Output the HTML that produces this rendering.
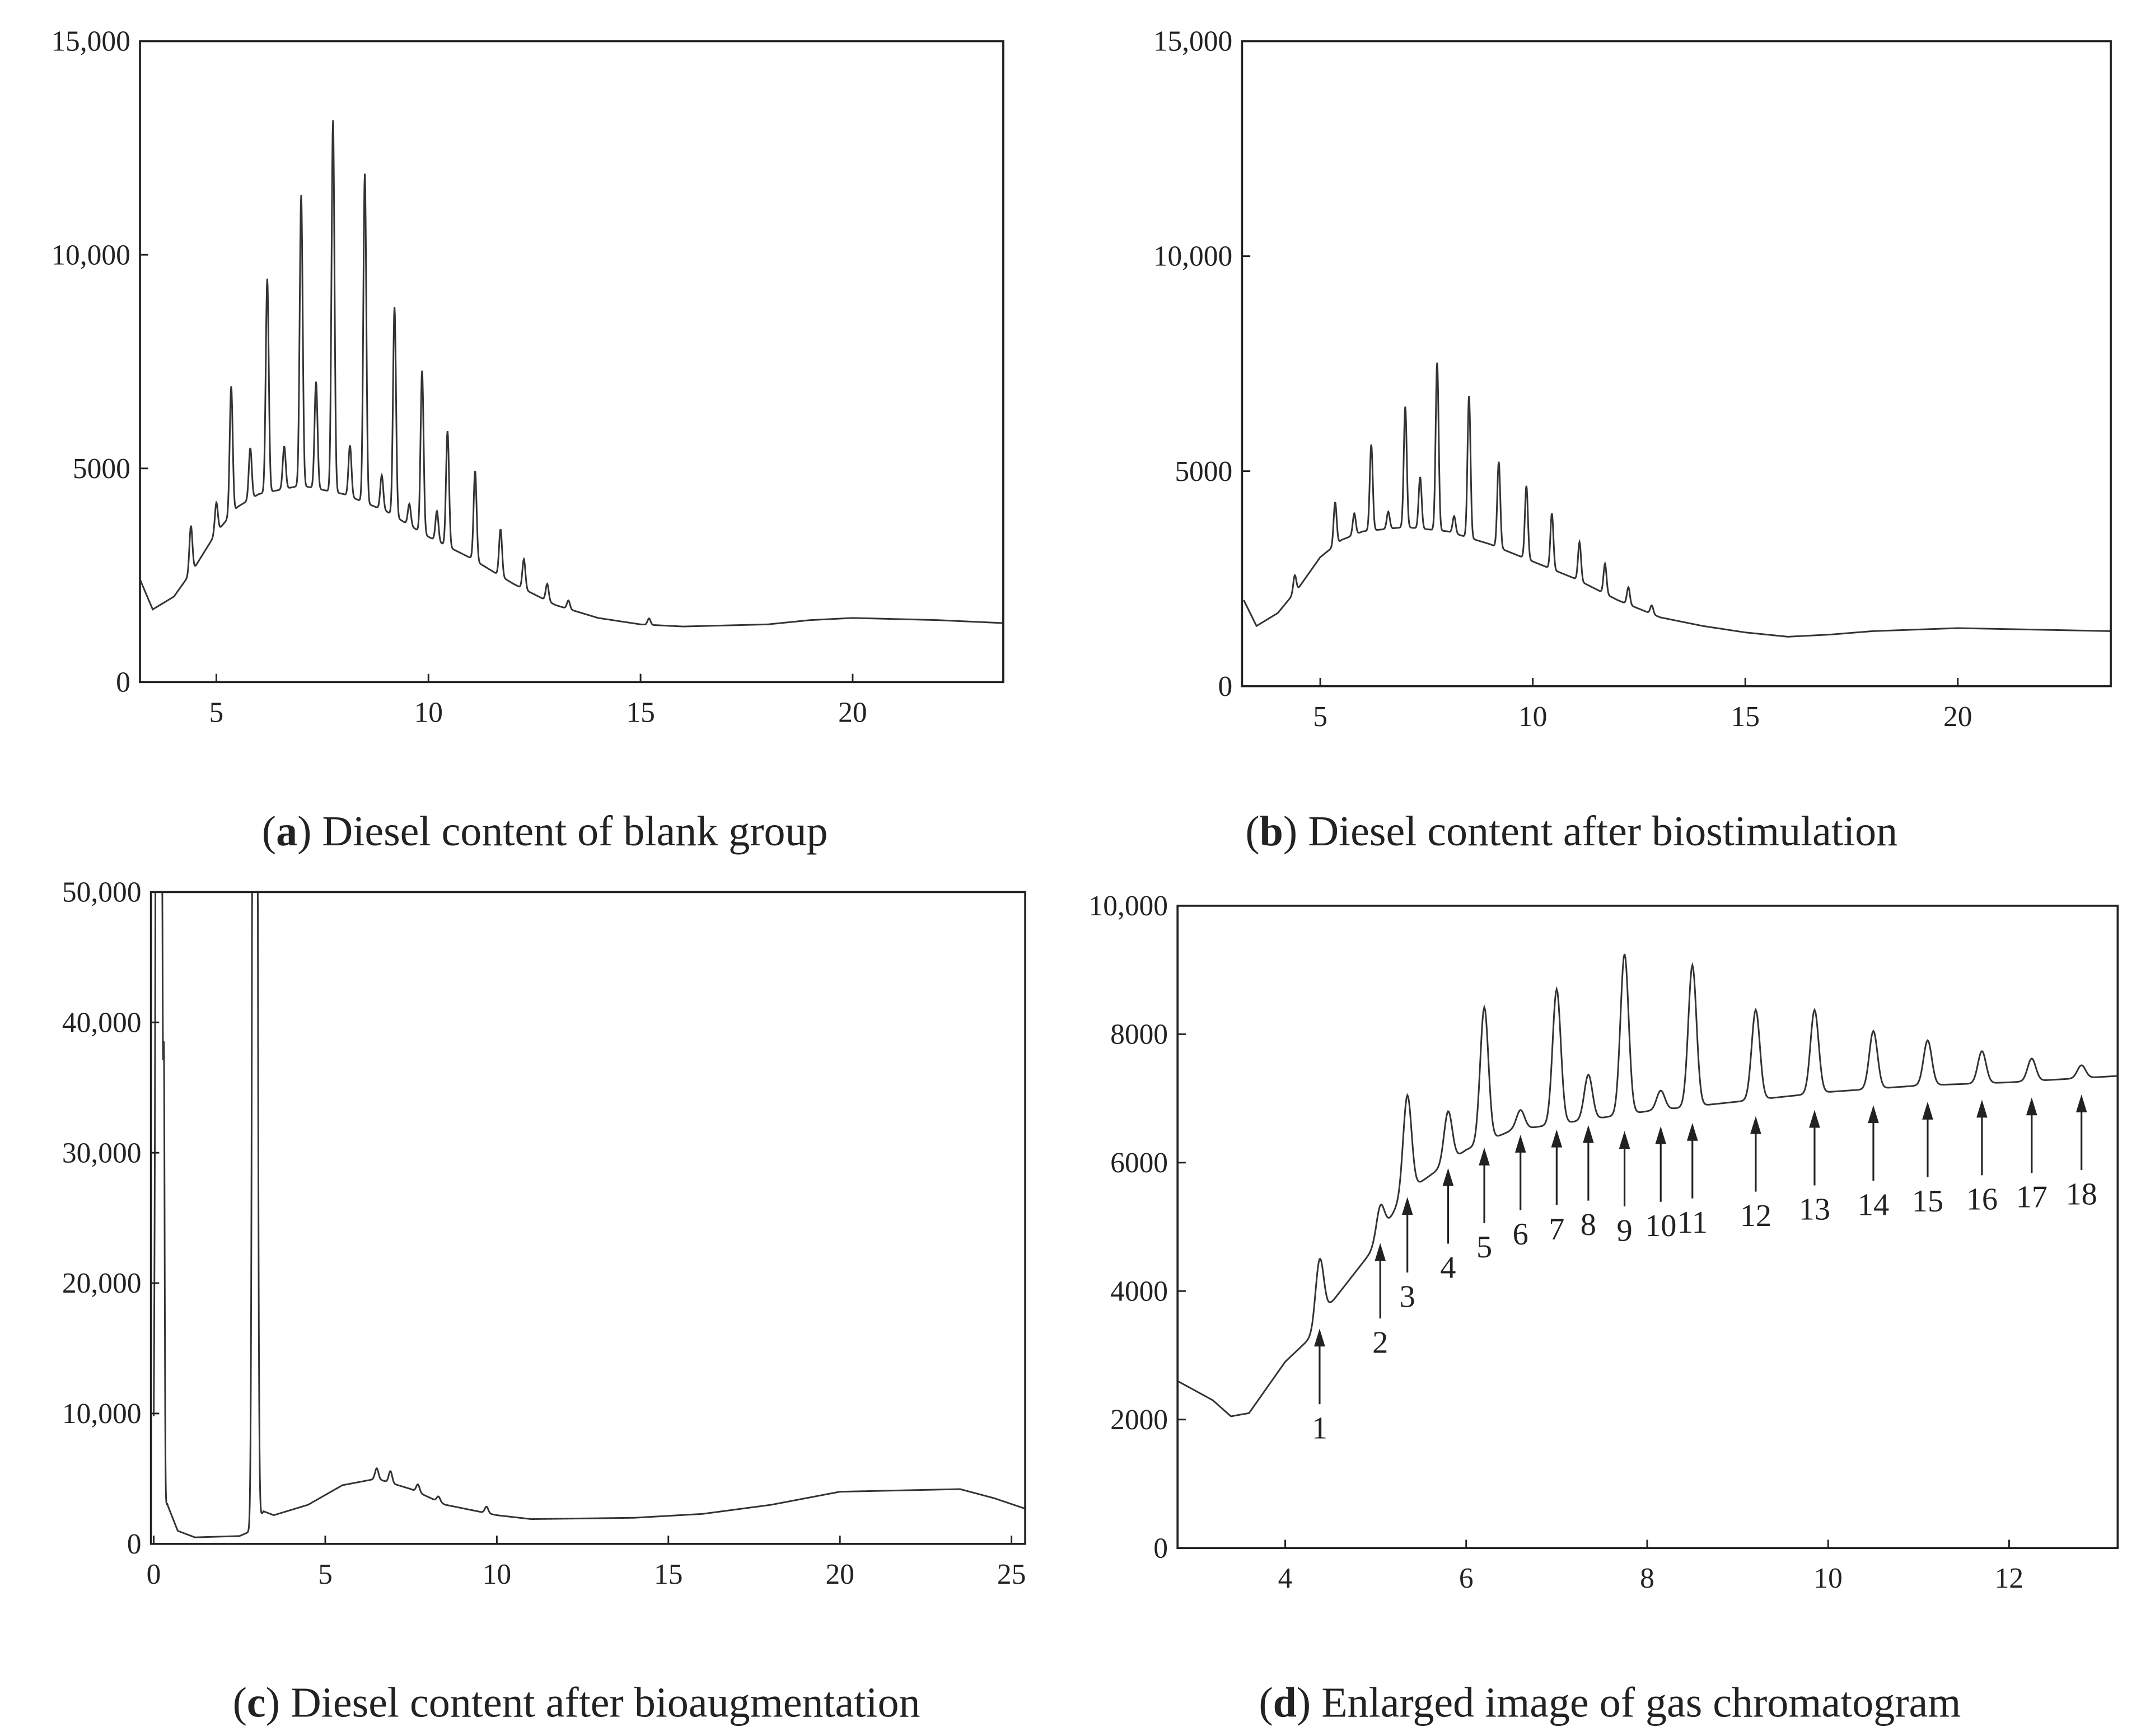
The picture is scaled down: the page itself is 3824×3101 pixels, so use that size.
<!DOCTYPE html>
<html><head><meta charset="utf-8"><style>
html,body{margin:0;padding:0;background:#fff;}
svg{display:block;}
text{font-family:"Liberation Serif",serif;fill:#222;}
</style></head><body>
<svg id="fig" width="3824" height="3101" viewBox="0 0 1560 1265" preserveAspectRatio="none" xmlns="http://www.w3.org/2000/svg">
<rect width="1560" height="1265" fill="#fff"/>
<g id="root"></g>
<text x="397" y="616" font-size="31" text-anchor="middle">(<tspan font-weight="bold">a</tspan>) Diesel content of blank group</text>
<text x="1145" y="616" font-size="31" text-anchor="middle">(<tspan font-weight="bold">b</tspan>) Diesel content after biostimulation</text>
<text x="420" y="1251" font-size="31" text-anchor="middle">(<tspan font-weight="bold">c</tspan>) Diesel content after bioaugmentation</text>
<text x="1173" y="1251" font-size="31" text-anchor="middle">(<tspan font-weight="bold">d</tspan>) Enlarged image of gas chromatogram</text>
</svg>
<script>
// ---- data ----
const aBaseX=[3.2,3.5,4,4.5,5,5.5,6,7,8,9,10,11,12,13,14,15,16,18,19,20,22,23.55];
const aBaseY=[2400,1700,2000,2700,3500,4100,4400,4600,4400,4000,3400,2900,2300,1800,1500,1350,1300,1350,1450,1500,1450,1380];
const aPeakX=[4.4,5.0,5.35,5.8,6.2,6.6,7.0,7.35,7.75,8.15,8.5,8.9,9.2,9.55,9.85,10.2,10.45,11.1,11.7,12.25,12.8,13.3,15.2];
const aPeakH=[1100,700,3000,1200,5000,1000,6800,2500,8700,1200,7700,800,4900,500,3800,700,2700,2100,1100,700,400,200,150];

const bBaseX=[3.2,3.5,4,4.5,5,5.5,6,7,8,9,10,11,12,13,14,15,16,17,18,20,23.6];
const bBaseY=[2000,1400,1700,2300,3000,3400,3600,3700,3600,3300,2900,2500,2000,1600,1400,1250,1150,1200,1280,1350,1280];
const bPeakX=[4.4,5.35,5.8,6.2,6.6,7.0,7.35,7.75,8.15,8.5,9.2,9.85,10.45,11.1,11.7,12.25,12.8];
const bPeakH=[400,1000,500,2000,400,2800,1200,3900,400,3300,2000,1700,1300,900,700,400,200];

const cBaseX=[0,0.4,0.7,1.2,2.5,2.85,3.2,3.5,4.5,5.5,6.5,7.5,8.5,10,11,14,16,18,20,23.5,24.5,25.4];
const cBaseY=[1000,3000,1000,500,600,1000,2500,2200,3000,4500,5000,4200,3000,2200,1900,2000,2300,3000,4000,4200,3500,2700];
const cPeakX=[0.15,0.3,2.95,6.5,6.9,7.7,8.3,9.7];
const cPeakH=[200000,26000,200000,800,900,600,400,500];

const dBaseX=[2.81,3.2,3.4,3.6,3.8,4.0,4.3,4.5,5,5.3,5.6,6,6.5,7,8,9,10,11,12,13.2];
const dBaseY=[2600,2300,2050,2100,2500,2900,3300,3800,4700,5500,5800,6200,6500,6600,6800,6950,7100,7200,7250,7350];
const dPeakX=[4.38,5.05,5.35,5.8,6.2,6.6,7.0,7.35,7.75,8.15,8.5,9.2,9.85,10.5,11.1,11.7,12.25,12.8];
const dPeakH=[1000,500,1500,800,2100,300,2100,700,2500,300,2200,1400,1300,900,700,500,350,200];
const dLabels=["1","2","3","4","5","6","7","8","9","10","11","12","13","14","15","16","17","18"];

const aYTicks=[0,5000,10000,15000], aYLab=["0","5000","10,000","15,000"];
const aXTicks=[5,10,15,20];
const cYTicks=[0,10000,20000,30000,40000,50000], cYLab=["0","10,000","20,000","30,000","40,000","50,000"];
const cXTicks=[0,5,10,15,20,25];
const dYTicks=[0,2000,4000,6000,8000,10000], dYLab=["0","2000","4000","6000","8000","10,000"];
const dXTicks=[4,6,8,10,12];

const NS="http://www.w3.org/2000/svg";
const root=document.getElementById('root');
function mk(tag,attrs,parent){const e=document.createElementNS(NS,tag);for(const k in attrs)e.setAttribute(k,attrs[k]);(parent||root).appendChild(e);return e;}
function interp(xs,ys,x){if(x<=xs[0])return ys[0];for(let i=1;i<xs.length;i++){if(x<=xs[i]){const t=(x-xs[i-1])/(xs[i]-xs[i-1]);return ys[i-1]+t*(ys[i]-ys[i-1]);}}return ys[ys.length-1];}
function val(p,x){let v=interp(p.bx,p.by,x);for(let i=0;i<p.px.length;i++){const s=p.sig[i]!==undefined?p.sig[i]:p.s;v+=p.ph[i]*Math.exp(-Math.pow((x-p.px[i])/s,2)/2);}return v;}

function panel(p){
  const g=mk('g',{});
  
  
  const X=v=>p.L+(v-p.x0)*(p.R-p.L)/(p.x1-p.x0);
  const Y=v=>p.B-(v-p.y0)*(p.B-p.T)/(p.y1-p.y0);
  p.X=X;p.Y=Y;
  const cid='clip-'+p.name;
  const cp=mk('clipPath',{id:cid},g);mk('rect',{x:p.L,y:p.T,width:p.R-p.L,height:p.B-p.T},cp);
  let d='';
  for(let x=p.bx[0];x<=p.bx[p.bx.length-1]+1e-9;x+=p.step){const v=val(p,x);d+=(d?'L':'M')+X(x).toFixed(2)+' '+Math.max(Y(v),p.T-5).toFixed(2);}
  const line=mk('path',{d:d,fill:'none',stroke:'#333','stroke-width':1.2,'clip-path':'url(#'+cid+')'},g);
  
  
  const fr=mk('rect',{x:p.L,y:p.T,width:p.R-p.L,height:p.B-p.T,fill:'none',stroke:'#222','stroke-width':1.5},g);
  
  
  p.yt.forEach((t,i)=>{
    mk('line',{x1:p.L,x2:p.L+6,y1:Y(t),y2:Y(t),stroke:'#222','stroke-width':1.2},g);
    const tx=mk('text',{x:p.L-7,y:Y(t)+7,'font-size':21,'text-anchor':'end'},g);tx.textContent=p.yl[i];
    
    
  });
  p.xt.forEach(t=>{
    mk('line',{x1:X(t),x2:X(t),y1:p.B,y2:p.B-6,stroke:'#222','stroke-width':1.2},g);
    const tx=mk('text',{x:X(t),y:p.B+29,'font-size':21,'text-anchor':'middle'},g);tx.textContent=String(t);
    
    
  });
  return g;
}
panel({name:'panel-a',L:102,R:731,T:30,B:497,x0:3.2,x1:23.55,y0:0,y1:15000,bx:aBaseX,by:aBaseY,px:aPeakX,ph:aPeakH,s:0.035,sig:[],step:0.01,yt:aYTicks,yl:aYLab,xt:aXTicks});
panel({name:'panel-b',L:905,R:1538,T:30,B:500,x0:3.16,x1:23.6,y0:0,y1:15000,bx:bBaseX,by:bBaseY,px:bPeakX,ph:bPeakH,s:0.035,sig:[],step:0.01,yt:aYTicks,yl:aYLab,xt:aXTicks});
panel({name:'panel-c',L:110,R:747,T:650,B:1125,x0:-0.08,x1:25.4,y0:0,y1:50000,bx:cBaseX,by:cBaseY,px:cPeakX,ph:cPeakH,s:0.05,sig:[0.06,0.02,0.05],step:0.005,yt:cYTicks,yl:cYLab,xt:cXTicks});
const pd={name:'panel-d',L:858,R:1543,T:660,B:1128,x0:2.81,x1:13.2,y0:0,y1:10000,bx:dBaseX,by:dBaseY,px:dPeakX,ph:dPeakH,s:0.045,sig:[],step:0.01,yt:dYTicks,yl:dYLab,xt:dXTicks};
const gd=panel(pd);
dPeakX.forEach((x,i)=>{
  const px=pd.X(x);
  const base=interp(dBaseX,dBaseY,x);
  const tip=pd.Y(base)+(i<8?4:12);
  const a=mk('g',{},gd);
  
  
  mk('line',{x1:px,x2:px,y1:tip+8,y2:tip+55,stroke:'#222','stroke-width':1.3},a);
  mk('path',{d:`M${px} ${tip}L${px-4} ${tip+13}L${px+4} ${tip+13}Z`,fill:'#222'},a);
  const t=mk('text',{x:px,y:tip+80,'font-size':23,'text-anchor':'middle'},a);
  t.textContent=dLabels[i];
});
</script>
</body></html>
